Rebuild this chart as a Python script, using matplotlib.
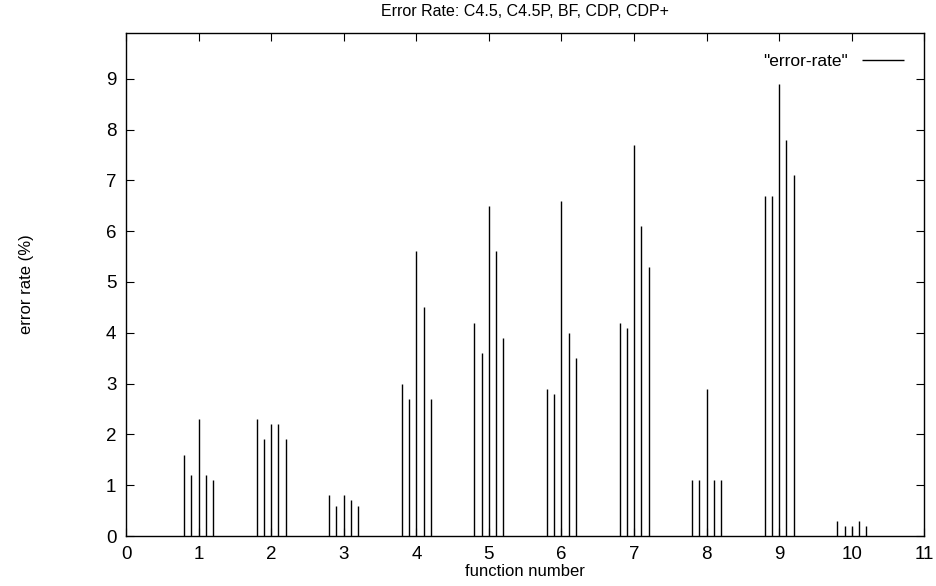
import matplotlib
matplotlib.use("Agg")
import matplotlib.pyplot as plt

plt.rcParams['font.family'] = ['Liberation Sans', 'DejaVu Sans']

# function numbers and the five methods' error rates (C4.5, C4.5P, BF, CDP, CDP+)
functions = [1, 2, 3, 4, 5, 6, 7, 8, 9, 10]
offsets = [-0.2, -0.1, 0.0, 0.1, 0.2]
c45 = [1.6, 2.3, 0.8, 3.0, 4.2, 2.9, 4.2, 1.1, 6.7, 0.3]
c45p = [1.2, 1.9, 0.6, 2.7, 3.6, 2.8, 4.1, 1.1, 6.7, 0.2]
bf = [2.3, 2.2, 0.8, 5.6, 6.5, 6.6, 7.7, 2.9, 8.9, 0.2]
cdp = [1.2, 2.2, 0.7, 4.5, 5.6, 4.0, 6.1, 1.1, 7.8, 0.3]
cdpplus = [1.1, 1.9, 0.6, 2.7, 3.9, 3.5, 5.3, 1.1, 7.1, 0.2]

series = [c45, c45p, bf, cdp, cdpplus]
xs = []
ys = []
for i, f in enumerate(functions):
    for off, s in zip(offsets, series):
        xs.append(f + off)
        ys.append(s[i])

fig = plt.figure(figsize=(9.37, 5.86), dpi=100)
ax = fig.add_axes([0.1345, 0.0853, 0.852, 0.8584])

ax.vlines(xs, 0, ys, colors='black', linewidth=1.0, label='"error-rate"')

ax.set_xlim(0, 11)
ax.set_ylim(0, 9.9)
ax.set_xticks(range(0, 12))
ax.set_yticks(range(0, 10))
ax.tick_params(direction='in', length=5.5, width=0.8, top=True, right=True,
               labelsize=13.5, pad=7)
for sp in ax.spines.values():
    sp.set_linewidth(1.0)

ax.set_title('Error Rate: C4.5, C4.5P, BF, CDP, CDP+', fontsize=11.5, pad=12)
ax.set_xlabel('function number', fontsize=12, labelpad=1)
ax.set_ylabel('error rate (%)', fontsize=12, labelpad=52)

ax.legend(loc='upper right', frameon=False, markerfirst=False, fontsize=12.5,
          handlelength=2.4, borderaxespad=0.8)

fig.savefig('out.png', dpi=100)
